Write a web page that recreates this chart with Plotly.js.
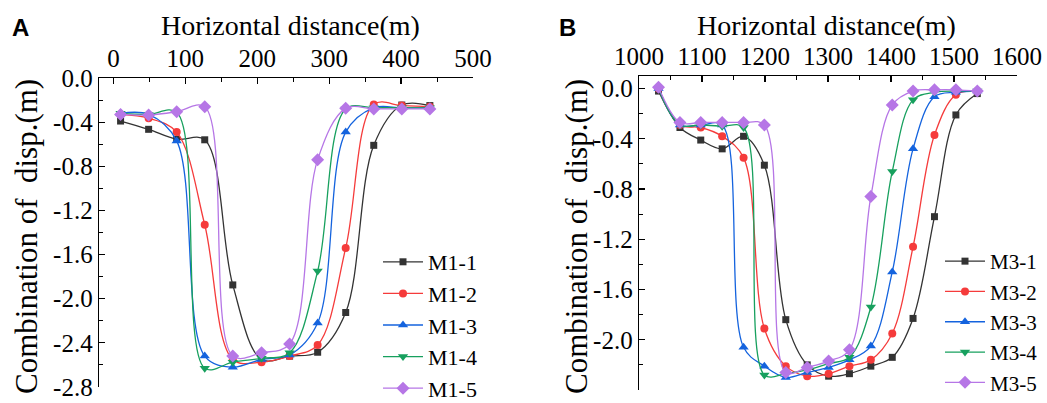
<!DOCTYPE html>
<html>
<head>
<meta charset="utf-8">
<script src="https://cdn.plot.ly/plotly-3.0.1.min.js"></script>
<style>html,body{margin:0;padding:0;background:#fff}#chart{width:1047px;height:403px}</style>
</head>
<body>
<div id="chart"></div>
<script>
// ---- Data ----
const xA = [10, 49, 88, 127, 166, 206, 245, 284, 323, 362, 401, 440];
const m1_1 = [-0.39, -0.465, -0.555, -0.56, -1.875, -2.55, -2.52, -2.485, -2.125, -0.61, -0.245, -0.25];
const m1_2 = [-0.33, -0.365, -0.49, -1.33, -2.55, -2.575, -2.52, -2.42, -1.54, -0.24, -0.25, -0.26];
const m1_3 = [-0.32, -0.33, -0.57, -2.52, -2.62, -2.55, -2.51, -2.22, -0.49, -0.27, -0.27, -0.27];
const m1_4 = [-0.32, -0.33, -0.31, -2.63, -2.575, -2.54, -2.49, -1.75, -0.28, -0.27, -0.27, -0.27];
const m1_5 = [-0.33, -0.335, -0.305, -0.26, -2.52, -2.49, -2.41, -0.74, -0.275, -0.28, -0.28, -0.28];

const xB = [1031, 1065, 1098, 1132, 1166, 1199, 1233, 1267, 1301, 1334, 1368, 1402, 1435, 1469, 1503, 1537];
const m3_1 = [-0.02, -0.31, -0.41, -0.48, -0.38, -0.61, -1.84, -2.20, -2.29, -2.27, -2.21, -2.14, -1.83, -1.02, -0.21, -0.04];
const m3_2 = [0.0, -0.29, -0.31, -0.38, -0.55, -1.91, -2.21, -2.29, -2.27, -2.21, -2.16, -1.95, -1.26, -0.37, -0.05, -0.02];
const m3_3 = [0.0, -0.29, -0.29, -0.29, -2.06, -2.21, -2.30, -2.26, -2.22, -2.16, -2.05, -1.46, -0.48, -0.065, -0.03, -0.02];
const m3_4 = [0.0, -0.29, -0.29, -0.30, -0.31, -2.28, -2.27, -2.24, -2.19, -2.14, -1.74, -0.66, -0.09, -0.03, -0.02, -0.02];
const m3_5 = [0.01, -0.27, -0.27, -0.27, -0.27, -0.29, -2.26, -2.22, -2.17, -2.08, -0.86, -0.13, -0.02, -0.01, -0.01, -0.02];

const namesA = ['M1-1', 'M1-2', 'M1-3', 'M1-4', 'M1-5'];
const namesB = ['M3-1', 'M3-2', 'M3-3', 'M3-4', 'M3-5'];

const xTickA = [0, 100, 200, 300, 400, 500];
const xTickAText = ['0', '100', '200', '300', '400', '500'];
const yTickA = [0, -0.4, -0.8, -1.2, -1.6, -2.0, -2.4, -2.8];
const yTickAText = ['0.0', '-0.4', '-0.8', '-1.2', '-1.6', '-2.0', '-2.4', '-2.8'];
const xTickB = [1000, 1100, 1200, 1300, 1400, 1500, 1600];
const xTickBText = ['1000', '1100', '1200', '1300', '1400', '1500', '1600'];
const yTickB = [0, -0.4, -0.8, -1.2, -1.6, -2.0, -2.4];
const yTickBText = ['0.0', '-0.4', '-0.8', '-1.2', '-1.6', '-2.0', '-2.4'];

// ---- Styles ----
const colors = ['#333333', '#f53b3b', '#1463de', '#17a05e', '#b676e6'];
const symbols = ['square', 'circle', 'triangle-up', 'triangle-down', 'diamond'];
const msizes = [7, 8, 9, 9, 10];
const FONT = "'Liberation Serif', 'Times New Roman', serif";
const SANS = "'Liberation Sans', Arial, sans-serif";

function mk(x, y, name, i, xa, ya, lg) {
  return {
    x: x, y: y, name: name, type: 'scatter', mode: 'lines+markers',
    xaxis: xa, yaxis: ya, legend: lg,
    line: {color: colors[i], width: 1.3, shape: 'spline', smoothing: 1},
    marker: {color: colors[i], symbol: symbols[i], size: msizes[i], line: {width: 0}}
  };
}

const seriesA = [m1_1, m1_2, m1_3, m1_4, m1_5];
const seriesB = [m3_1, m3_2, m3_3, m3_4, m3_5];
const data = [];
seriesA.forEach((s, i) => data.push(mk(xA, s, namesA[i], i, 'x', 'y', 'legend')));
seriesB.forEach((s, i) => data.push(mk(xB, s, namesB[i], i, 'x2', 'y2', 'legend2')));

const W = 1047, H = 403;
const px = v => v / W, py = v => 1 - v / H;

function xax(domain, range, tv, tt, anchor) {
  return {
    domain: domain, range: range, side: 'top', anchor: anchor,
    showline: true, linecolor: '#000', linewidth: 1.3, mirror: false,
    showgrid: false, zeroline: false, automargin: false,
    ticks: 'inside', ticklen: 6, tickwidth: 1.2, tickcolor: '#000',
    tickvals: tv, ticktext: tt,
    tickfont: {family: FONT, size: 25, color: '#000'},
    minor: {dtick: 50, ticks: 'inside', ticklen: 4, tickwidth: 1, tickcolor: '#000', showgrid: false},
    fixedrange: true
  };
}
function yax(domain, range, tv, tt, anchor) {
  return {
    domain: domain, range: range, anchor: anchor,
    showline: true, linecolor: '#000', linewidth: 1.3, mirror: false,
    showgrid: false, zeroline: false, automargin: false,
    ticks: 'inside', ticklen: 6, tickwidth: 1.2, tickcolor: '#000',
    tickvals: tv, ticktext: tt,
    tickfont: {family: FONT, size: 25, color: '#000'},
    minor: {dtick: 0.2, ticks: 'inside', ticklen: 4, tickwidth: 1, tickcolor: '#000', showgrid: false},
    fixedrange: true
  };
}

const legendBase = {
  bgcolor: 'rgba(0,0,0,0)', borderwidth: 0,
  xanchor: 'left', yanchor: 'top', tracegroupgap: 0, itemwidth: 40
};

const layout = {
  width: W, height: H,
  font: {family: FONT, color: '#000'},
  margin: {l: 0, r: 0, t: 0, b: 0, pad: 0, autoexpand: false},
  paper_bgcolor: '#fff', plot_bgcolor: '#fff',
  showlegend: true,
  xaxis: xax([px(99), px(473)], [-20, 500], xTickA, xTickAText, 'y'),
  yaxis: yax([py(387), py(78)], [-2.8, 0], yTickA, yTickAText, 'x'),
  xaxis2: xax([px(639), px(1017)], [1000, 1600], xTickB, xTickBText, 'y2'),
  yaxis2: yax([py(390), py(76)], [-2.4, 0.1], yTickB, yTickBText, 'x2'),
  legend: Object.assign({}, legendBase, {x: px(378), y: py(241), font: {family: FONT, size: 22, color: '#000'}}),
  legend2: Object.assign({}, legendBase, {x: px(940), y: py(241), font: {family: FONT, size: 21, color: '#000'}}),
  annotations: [
    {text: 'Horizontal distance(m)', xref: 'paper', yref: 'paper', x: px(290), y: py(25),
     xanchor: 'center', yanchor: 'middle', showarrow: false, font: {family: FONT, size: 28, color: '#000'}},
    {text: 'Horizontal distance(m)', xref: 'paper', yref: 'paper', x: px(826), y: py(25),
     xanchor: 'center', yanchor: 'middle', showarrow: false, font: {family: FONT, size: 28, color: '#000'}},
    {text: 'Combination of \u00a0disp.(m)', xref: 'paper', yref: 'paper', x: px(26), y: py(237),
     xanchor: 'center', yanchor: 'middle', textangle: -90, showarrow: false, font: {family: FONT, size: 31, color: '#000'}},
    {text: 'Combination of \u00a0disp.(m)', xref: 'paper', yref: 'paper', x: px(576), y: py(237),
     xanchor: 'center', yanchor: 'middle', textangle: -90, showarrow: false, font: {family: FONT, size: 31, color: '#000'}},
    {text: '<b>A</b>', xref: 'paper', yref: 'paper', x: px(20), y: py(28),
     xanchor: 'center', yanchor: 'middle', showarrow: false, font: {family: SANS, size: 24, color: '#000'}},
    {text: '<b>B</b>', xref: 'paper', yref: 'paper', x: px(567), y: py(28),
     xanchor: 'center', yanchor: 'middle', showarrow: false, font: {family: SANS, size: 24, color: '#000'}}
  ]
};

Plotly.newPlot('chart', data, layout, {staticPlot: true, displayModeBar: false});
</script>
</body>
</html>
